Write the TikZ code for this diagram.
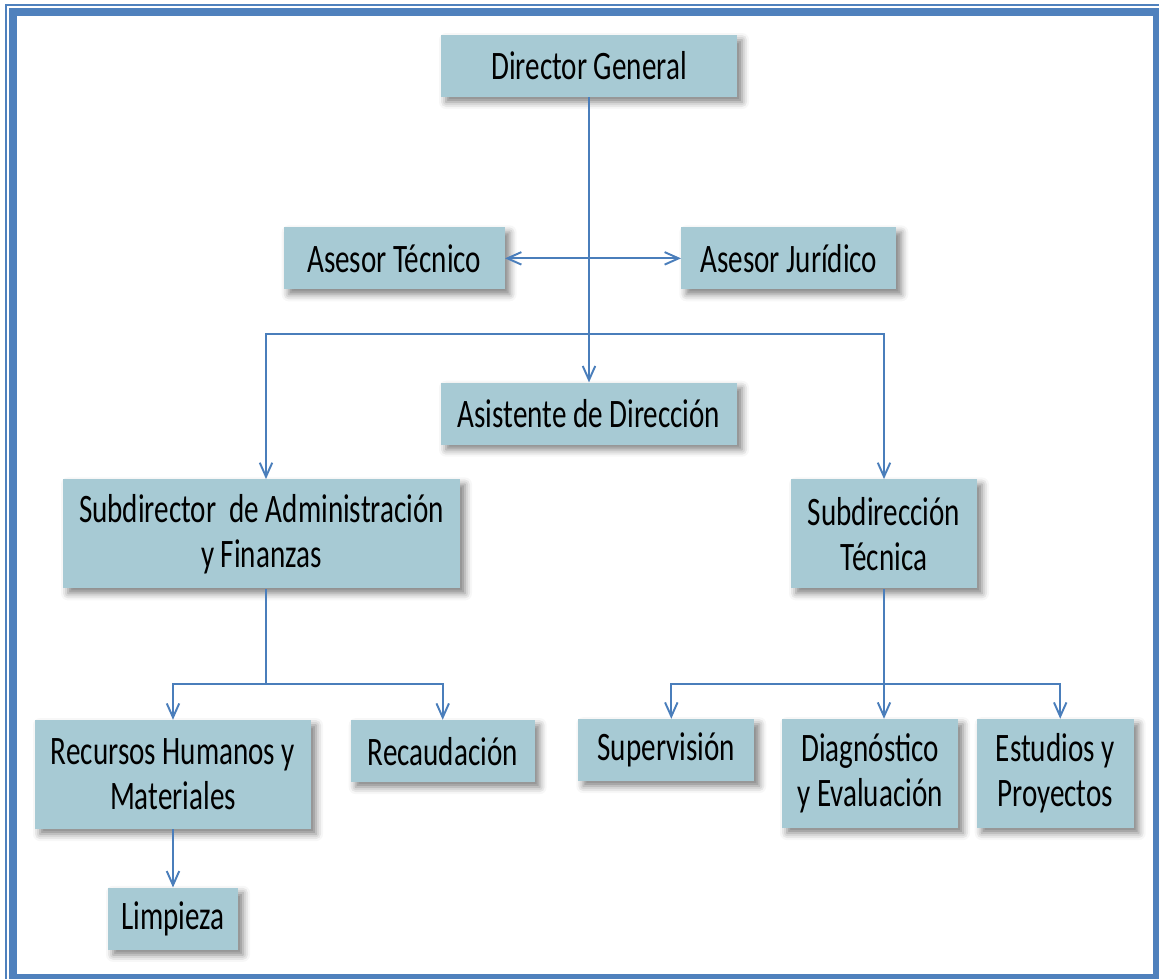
\documentclass[tikz,border=0pt]{standalone}
\usepackage{fontspec}
\setmainfont{Carlito}[FakeStretch=0.72]
\usepackage{tikz}
\usetikzlibrary{positioning,arrows.meta,shadows.blur}
\definecolor{frameblue}{RGB}{79,129,189}
\definecolor{lineblue}{RGB}{74,126,187}
\definecolor{boxfill}{RGB}{167,202,212}
\tikzstyle{arrow} = [draw=lineblue, line width=1.1pt, >={Straight Barb[length=2.8mm,width=2.5mm]}, ->]
\tikzstyle{line} = [draw=lineblue, line width=1.1pt]

\begin{document}
\begin{tikzpicture}
\tikzset{%
	unit/.style = { rectangle, fill=boxfill, inner sep=0pt, minimum height=1.24cm, align=center, font=\fontsize{23}{25.6}\selectfont, blur shadow={shadow xshift=1mm, shadow yshift=-1mm, shadow blur radius=1.4mm, shadow opacity=50} },
	tall/.style = { unit, minimum height=2.18cm }
}
\useasboundingbox (0,0) rectangle (23.18,-19.56);
% double frame
\draw [frameblue, line width=0.16cm]	(0.26,-0.24) rectangle (23.14,-19.56);
\draw [frameblue, line width=0.04cm]	(0.12,-0.10) rectangle (23.30,-19.70);

\node(Director)		[unit, minimum width=5.92cm] at (11.78,-1.32)
								{Director General};
\coordinate [below=3.22cm of Director.south] (AsesorHub);
\node(AsesorT)		[unit, minimum width=4.42cm, left=1.68cm of AsesorHub]
								{Asesor Técnico};
\node(AsesorJ)		[unit, minimum width=4.30cm, right=1.84cm of AsesorHub]
								{Asesor Jurídico};
\coordinate [below=4.74cm of Director.south] (MainBus);
\node(Asistente)	[unit, minimum width=5.92cm, below=5.7cm of Director.south]
								{Asistente de Dirección};

\node(SubAdm)		[tall, minimum width=7.94cm, below=0.68cm of Asistente.south, xshift=-6.55cm]
								{Subdirector\ \ de Administración\\y Finanzas};
\node(SubTec)		[tall, minimum width=3.72cm, below=0.68cm of Asistente.south, xshift=5.9cm]
								{Subdirección\\Técnica};

\coordinate [below=1.9cm of SubAdm.south, xshift=0.09cm] (AdmBus);
\node(RecHum)		[tall, minimum width=5.52cm, below=2.62cm of SubAdm.south, xshift=-1.77cm]
								{Recursos Humanos y\\Materiales};
\node(Recaud)		[unit, minimum width=3.68cm, right=0.78cm of RecHum.north east, anchor=north west]
								{Recaudación};
\node(Limpieza)		[unit, minimum width=2.6cm, below=1.16cm of RecHum.south]
								{Limpieza};

\coordinate [below=1.9cm of SubTec.south] (TecBus);
\node(Diag)			[tall, minimum width=3.52cm, below=2.6cm of SubTec.south, xshift=-0.28cm]
								{Diagnóstico\\y Evaluación};
\node(Superv)		[unit, minimum width=3.52cm, left=0.54cm of Diag.north west, anchor=north east]
								{Supervisión};
\node(Estudios)		[tall, minimum width=3.14cm, right=0.36cm of Diag.north east, anchor=north west]
								{Estudios y\\Proyectos};

\draw [arrow]	(Director) -- (Asistente);
\draw [arrow, <->]	(AsesorT) -- (AsesorJ);
\draw [arrow]	(MainBus) -| (AdmBus |- SubAdm.north);
\draw [arrow]	(MainBus) -| (SubTec);

\draw [line]	(AdmBus |- SubAdm.south) -- (AdmBus);
\draw [arrow]	(AdmBus) -| (RecHum);
\draw [arrow]	(AdmBus) -| (Recaud);
\draw [arrow]	(RecHum) -- (Limpieza);

\draw [arrow]	(SubTec) -- (SubTec |- Diag.north);
\draw [arrow]	(TecBus) -| ([xshift=0.1cm]Superv.north);
\draw [arrow]	(TecBus) -| ([xshift=0.1cm]Estudios.north);

\end{tikzpicture}
\end{document}
